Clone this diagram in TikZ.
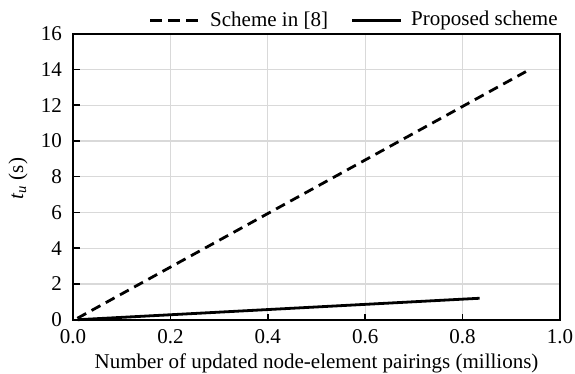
\documentclass[tikz,border=0pt]{standalone}
\usepackage{fontspec}
\setmainfont{Liberation Serif}
\usetikzlibrary{positioning, calc}
\definecolor{gridgray}{HTML}{D9D9D9}
\tikzset{
  gridLine/.style = {draw=gridgray, line width=1.3pt},
  plotFrame/.style = {draw=black, line width=1.9pt},
  tickMark/.style = {draw=black, line width=1.5pt},
  tickLabel/.style = {font=\fontsize{21}{24}\selectfont, inner sep=0pt},
  axisTitle/.style = {font=\fontsize{21}{24}\selectfont, inner sep=0pt},
  legendText/.style = {font=\fontsize{21}{24}\selectfont, inner sep=0pt, anchor=west},
  oldScheme/.style = {line width=2.8pt, dash pattern=on 10pt off 6.2pt},
  newScheme/.style = {line width=2.8pt},
}

\begin{document}
\begin{tikzpicture}[x=487pt, y=17.875pt]
\useasboundingbox (-73pt,-54.3pt) rectangle (502pt,319.7pt);

% grid
\foreach \gx in {0.2,0.4,0.6,0.8}
  \draw[gridLine] (\gx,0) -- (\gx,16);
\foreach \gy in {2,4,...,14}
  \draw[gridLine] (0,\gy) -- (1,\gy);

% ticks
\foreach \gy in {2,4,...,14}
  \draw[tickMark] (0,\gy) -- ++(7pt,0);
\foreach \gx in {0.2,0.4,0.6,0.8}
  \draw[tickMark] (\gx,0) -- ++(0,6pt);
\draw[plotFrame] (0,0) rectangle (1,16);

% tick labels
\foreach \gy in {0,2,...,16}
  \node[tickLabel, anchor=east, xshift=-11pt] (ylab\gy) at (0,\gy) {\gy};
\foreach \gx/\gl in {0/0.0,0.2/0.2,0.4/0.4,0.6/0.6,0.8/0.8,1/1.0}
  \node[tickLabel, anchor=base, yshift=-24pt] (xlab\gl) at (\gx,0) {\gl};

% axis titles
\node[axisTitle, anchor=base] (xTitle) at (0.5,-49pt) {Number of updated node-element pairings (millions)};
\node[axisTitle, rotate=90] (yTitle) at (-55pt,7.9) {{\itshape t}\textsubscript{\itshape u} (s)};

% data
\coordinate (oldStart) at (0.009,0.08);
\coordinate (oldEnd) at (0.93,13.88);
\coordinate (newStart) at (0.01,0);
\coordinate (newEnd) at (0.835,1.2);
\draw[oldScheme] (oldStart) -- (oldEnd);
\draw[newScheme] (newStart) -- (newEnd);

% legend
\coordinate (legOldA) at (77pt,299pt);
\coordinate (legOldB) at (126pt,299pt);
\coordinate (legNewA) at (279pt,299pt);
\coordinate (legNewB) at (328pt,299pt);
\draw[oldScheme, dash pattern=on 12pt off 6pt] (legOldA) -- (legOldB);
\node[legendText, right=11pt of legOldB] (legOld) {Scheme in [8]};
\draw[newScheme] (legNewA) -- (legNewB);
\node[legendText, right=10pt of legNewB] (legNew) {Proposed scheme};
\end{tikzpicture}
\end{document}
